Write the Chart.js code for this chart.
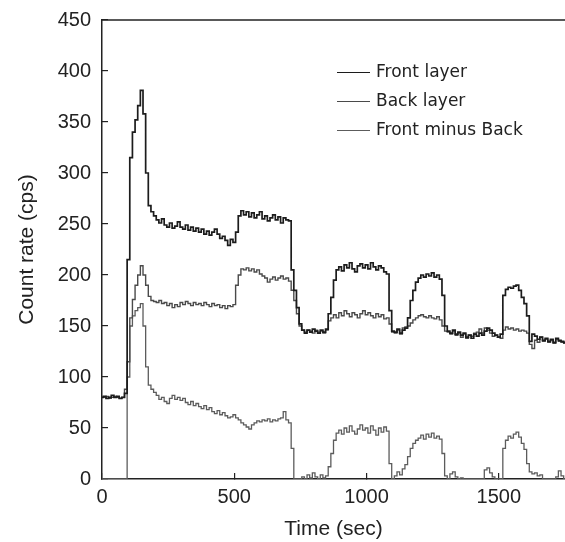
<!DOCTYPE html>
<html>
<head>
<meta charset="utf-8">
<script src="https://cdn.jsdelivr.net/npm/chart.js@4/dist/chart.umd.min.js"></script>
<style>
  html, body { margin: 0; padding: 0; background: #fff; }
  #wrap { width: 565px; height: 542px; }
</style>
</head>
<body>
<div id="wrap"><canvas id="c" width="565" height="542"></canvas></div>
<script>
// Sampling interval of the count-rate record (seconds)
const sampleStepSec = 10;

// Count rate of the front detector layer (cps), one value per sample
const frontLayer = [
  80, 81, 79, 80, 82, 80, 81, 79, 80, 84,
  215, 315, 340, 352, 366, 381, 358, 300, 268, 262,
  258, 254, 251, 255, 249, 247, 251, 246, 248, 252,
  247, 245, 249, 244, 247, 243, 246, 242, 245, 240,
  243, 239, 242, 245, 240, 236, 238, 234, 229, 235,
  232, 242, 258, 263, 259, 262, 257, 261, 256, 259,
  262, 255, 258, 253, 256, 259, 254, 257, 251, 256,
  254, 253, 205, 185, 168, 152, 146, 143, 146, 144,
  147, 145, 143, 146, 144, 147, 162, 178, 195, 205,
  208, 204, 210, 207, 212, 206, 203, 209, 211, 207,
  210, 206, 212, 208, 205, 209, 207, 203, 201, 165,
  145, 144, 147, 143, 146, 148, 158, 175, 185, 193,
  197, 200, 198, 201, 199, 202, 198, 200, 196, 180,
  150, 145, 143, 146, 142, 144, 141, 143, 139, 141,
  138, 142, 140, 143, 141, 145, 148, 146, 143, 141,
  139, 142, 180, 186, 188, 187, 189, 190, 185, 178,
  172, 160, 135, 142, 140, 137, 139, 136, 138, 135,
  137, 134, 138, 136, 135, 134
];

// Count rate of the back detector layer (cps)
const backLayer = [
  80, 80, 81, 79, 80, 81, 80, 79, 80, 88,
  115, 158, 176, 190, 200, 209, 200, 190, 179, 175,
  174, 173, 175, 172, 173, 170, 172, 168, 171, 169,
  173, 171, 174, 172, 170, 173, 171, 172, 170, 173,
  171, 169, 172, 170, 171, 168, 170, 167, 170, 169,
  171, 190, 200, 206, 205, 207, 204, 206, 203, 205,
  201, 199, 197, 193, 196, 198, 195, 197, 199, 196,
  197, 194, 185, 175, 162, 150, 146, 144, 146, 145,
  143, 146, 144, 145, 143, 146, 155, 158, 161, 158,
  163, 160, 165, 162, 159, 163, 161, 158, 162, 165,
  161, 163, 160, 158, 162, 159, 161, 157, 158, 152,
  144, 143, 146, 142, 148, 149, 150, 153, 156, 158,
  160, 161, 159, 158, 160, 158, 157, 159, 156, 150,
  145, 144, 142, 145, 141, 143, 139, 142, 138, 141,
  140, 143, 144, 147, 143, 148, 146, 143, 140, 141,
  139, 138, 146, 149, 147, 148, 146, 147, 145, 146,
  145, 143, 132, 128, 136, 134, 139, 135, 137, 134,
  136, 133, 137, 135, 134, 133
];

// Front minus back (cps)
const frontMinusBack = [
  0, 0, 0, 0, 0, 0, 0, 0, 0, 0,
  100, 150, 160, 165, 168, 172, 150, 110, 92, 88,
  85, 82, 78, 80, 76, 74, 79, 82, 78, 80,
  77, 79, 75, 73, 76, 72, 74, 71, 69, 72,
  68, 70, 66, 64, 67, 63, 65, 62, 60, 61,
  63, 60, 58, 55, 53, 51, 49, 53, 55, 57,
  56, 58, 57, 59, 56, 58, 57, 59, 60, 66,
  58, 55, 30, 0, 0, 0, 2, 0, 4, 1,
  6, 2, 0, 4, 1, 3, 12, 25, 38, 45,
  48, 44, 50, 46, 52, 47, 44, 49, 53, 48,
  50, 45, 52, 48, 43, 50, 46, 51, 47, 15,
  0, 3, 7, 4, 10, 14, 22, 30, 35, 38,
  40, 43, 39, 44, 41, 45, 40, 42, 39, 25,
  3, 0, 5, 7, 2, 0, 1, 0, 0, 0,
  0, 0, 0, 0, 0, 9, 11, 6, 2, 0,
  0, 0, 30, 38, 42, 40, 44, 46, 41, 35,
  29, 15, 7, 5, 6, 3, 4, 0, 0, 0,
  0, 0, 2, 8, 3, 0
];

// Axis ranges and tick labels
const xMin = 0, xMax = 1750;
const xTickValues = [0, 500, 1000, 1500];
const yMin = 0, yMax = 450;
const yTickValues = [0, 50, 100, 150, 200, 250, 300, 350, 400, 450];

const seriesNames = ['Front layer', 'Back layer', 'Front minus Back'];
const seriesColors = ['#1c1c1c', '#4a4a4a', '#5c5c5c'];
const seriesWidths = [1.7, 1.4, 1.3];

const toPoints = arr => arr.map((v, i) => ({ x: i * sampleStepSec, y: v }));

const tickFont = { family: 'Liberation Sans', size: 20 };
const titleFont = { family: 'Liberation Sans', size: 21 };
const inkColor = '#222';

// Top frame line and in-plot legend
const framePlugin = {
  id: 'frameAndLegend',
  afterDatasetsDraw(chart) {
    const { ctx, chartArea } = chart;
    ctx.save();
    ctx.strokeStyle = '#222';
    ctx.lineWidth = 1.5;
    ctx.beginPath();
    ctx.moveTo(chartArea.left, chartArea.top);
    ctx.lineTo(chartArea.right, chartArea.top);
    ctx.stroke();

    const lx0 = 337, lx1 = 370, tx = 376, ly0 = 72, dy = 29;
    ctx.font = '17px "DejaVu Sans"';
    ctx.textBaseline = 'middle';
    ctx.textAlign = 'left';
    chart.data.datasets.forEach((ds, i) => {
      const y = ly0 + i * dy;
      ctx.strokeStyle = ds.borderColor;
      ctx.lineWidth = 1.2;
      ctx.beginPath();
      ctx.moveTo(lx0, y + 0.5);
      ctx.lineTo(lx1, y + 0.5);
      ctx.stroke();
      ctx.fillStyle = '#222';
      ctx.fillText(ds.label, tx, y + 1);
    });
    ctx.restore();
  }
};

const fixedTicks = values => scale => { scale.ticks = values.map(v => ({ value: v })); };

new Chart(document.getElementById('c'), {
  type: 'line',
  data: {
    datasets: [frontLayer, backLayer, frontMinusBack].map((arr, i) => ({
      label: seriesNames[i],
      data: toPoints(arr),
      borderColor: seriesColors[i],
      borderWidth: seriesWidths[i],
      pointRadius: 0,
      tension: 0,
      stepped: 'middle',
      fill: false
    }))
  },
  options: {
    responsive: false,
    animation: false,
    layout: { padding: { left: 0, right: 0, top: 20, bottom: 0 } },
    plugins: { legend: { display: false }, tooltip: { enabled: false } },
    scales: {
      x: {
        type: 'linear',
        min: xMin,
        max: xMax,
        afterBuildTicks: fixedTicks(xTickValues),
        border: { display: true, color: '#222', width: 1.5 },
        grid: { drawOnChartArea: false, drawTicks: true, tickLength: -6, color: '#222', lineWidth: 1.2 },
        ticks: { maxRotation: 0, autoSkip: false, font: tickFont, color: inkColor, padding: 12,
                 callback: v => String(v) },
        title: { display: true, text: 'Time (sec)', font: titleFont, color: inkColor, padding: { top: 1, bottom: 0 } },
        afterFit(scale) { scale.height = 63; scale.paddingLeft = 0; scale.paddingRight = 0; }
      },
      y: {
        type: 'linear',
        min: yMin,
        max: yMax,
        afterBuildTicks: fixedTicks(yTickValues),
        border: { display: true, color: '#222', width: 1.5 },
        grid: { drawOnChartArea: false, drawTicks: true, tickLength: -6, color: '#222', lineWidth: 1.2 },
        ticks: { autoSkip: false, font: tickFont, color: inkColor, padding: 17, callback: v => String(v) },
        title: { display: true, text: 'Count rate (cps)', font: titleFont, color: inkColor, padding: { top: 15, bottom: 0 } },
        afterFit(scale) { scale.width = 102; scale.paddingTop = 0; scale.paddingBottom = 0; }
      }
    }
  },
  plugins: [framePlugin]
});
</script>
</body>
</html>
